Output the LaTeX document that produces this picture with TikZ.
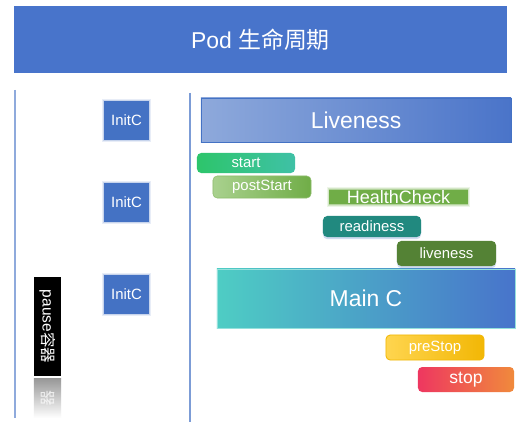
\documentclass[tikz,border=0pt]{standalone}
\usepackage{fontspec}
\setmainfont{Liberation Sans}
\newfontfamily\cjk{Noto Sans CJK SC}
\usepackage{xcolor}
\usetikzlibrary{shadows}

\definecolor{podblue}{HTML}{4874CB}
\definecolor{initblue}{HTML}{4472C4}
\definecolor{lineblue}{HTML}{8FAADC}
\definecolor{liveL}{HTML}{8EA9DB}
\definecolor{liveR}{HTML}{4A74C9}
\definecolor{startL}{HTML}{2DC56B}
\definecolor{startR}{HTML}{3FC1A6}
\definecolor{postL}{HTML}{A9D18E}
\definecolor{postR}{HTML}{70AD47}
\definecolor{hcgreen}{HTML}{70AD47}
\definecolor{readyteal}{HTML}{21897F}
\definecolor{probegreen}{HTML}{548235}
\definecolor{mainL}{HTML}{4ECDC4}
\definecolor{mainR}{HTML}{4874CB}
\definecolor{preL}{HTML}{FFD54F}
\definecolor{preR}{HTML}{F2B705}
\definecolor{stopL}{HTML}{EE3760}
\definecolor{stopR}{HTML}{F08A3C}

\begin{document}
\begin{tikzpicture}[
  x=0.025cm, y=-0.025cm,
  bar/.style={inner sep=0pt, text=white, font=\fontsize{16.3}{18}\selectfont},
  glow/.style={preaction={draw=#1, draw opacity=0.12, line width=4pt},
               preaction={draw=#1, draw opacity=0.2, line width=2.5pt},
               preaction={draw=#1, draw opacity=0.35, line width=1.2pt}},
  init/.style={bar, fill=initblue, glow=initblue, minimum width=1.1cm, minimum height=0.95cm, font=\fontsize{10.6}{12}\selectfont},
  hook/.style={bar, rounded corners=3pt, minimum width=2.45cm, font=\fontsize{10.6}{12}\selectfont},
  vline/.style={lineblue, line width=1pt}
]
\fill[white] (0,0) rectangle (526,427);
\useasboundingbox (0,0) rectangle (526,427);

% title
\node[bar, fill=podblue, minimum width=12.325cm, minimum height=1.675cm] (title) at (260.5,39.5) {Pod {\cjk 生命周期}};

% time lines
\coordinate (ltop) at (15,90);
\coordinate (lbot) at (15,418);
\coordinate (mtop) at (190,93);
\coordinate (mbot) at (190,422);
\draw[vline] (ltop) -- (lbot);
\draw[vline, initblue!70] (mtop) -- (mbot);

% init containers
\node[init] (initA) at (126.5,120.5) {InitC};
\node[init] (initB) at (126.5,202.5) {InitC};
\node[init] (initC) at (126.5,294.5) {InitC};

% pause container + reflection
\node[bar, fill=black, rotate=-90, minimum width=2.475cm, minimum height=0.675cm, font=\fontsize{11}{12}\selectfont] (pause) at (47.5,326.5) {pause{\cjk 容器}};
\node[inner sep=0pt, minimum width=0.675cm, minimum height=0.975cm, top color=gray!80, bottom color=white] (pauseRefl) at (47.5,398.5) {};
\node[text=white, opacity=0.75, xscale=-1, rotate=-90, font=\fontsize{11}{12}\cjk] (reflText) at (47.5,398) {器};

% main lane
\node[bar, left color=liveL, right color=liveR, draw=initblue, line width=0.6pt, minimum width=7.75cm, minimum height=1.1cm] (live) at (356,120) {Liveness};
\node[hook, left color=startL, right color=startR, minimum height=0.5cm] (start) at (246,163) {start};
\node[hook, left color=postL, right color=postR, draw=postR!80, minimum height=0.55cm] (poststart) at (262,187) {postStart};
\node[bar, fill=hcgreen, glow=hcgreen, minimum width=3.45cm, minimum height=0.36cm, font=\fontsize{12.8}{14}\selectfont] (health) at (398.5,197) {HealthCheck};
\node[hook, fill=readyteal, minimum height=0.525cm, drop shadow={opacity=0.25, shadow xshift=0pt, shadow yshift=-1.5pt, fill=initblue}] (ready) at (372,226.5) {readiness};
\node[hook, fill=probegreen, minimum width=2.475cm, minimum height=0.625cm, drop shadow={opacity=0.25, shadow xshift=0pt, shadow yshift=-1.5pt, fill=initblue}] (liveprobe) at (446.5,253.5) {liveness};
\node[bar, left color=mainL, right color=mainR, draw=mainL!60, line width=0.5pt, minimum width=7.45cm, minimum height=1.475cm] (mainc) at (366,298.5) {Main C};
\node[hook, left color=preL, right color=preR, draw=preR, line width=0.6pt, minimum height=0.625cm] (prestop) at (435,347.5) {preStop};
\node[hook, left color=stopL, right color=stopR, minimum width=2.4cm, minimum height=0.625cm, font=\fontsize{12.5}{14}\selectfont] (stop) at (466,379.5) {stop};

\end{tikzpicture}
\end{document}
